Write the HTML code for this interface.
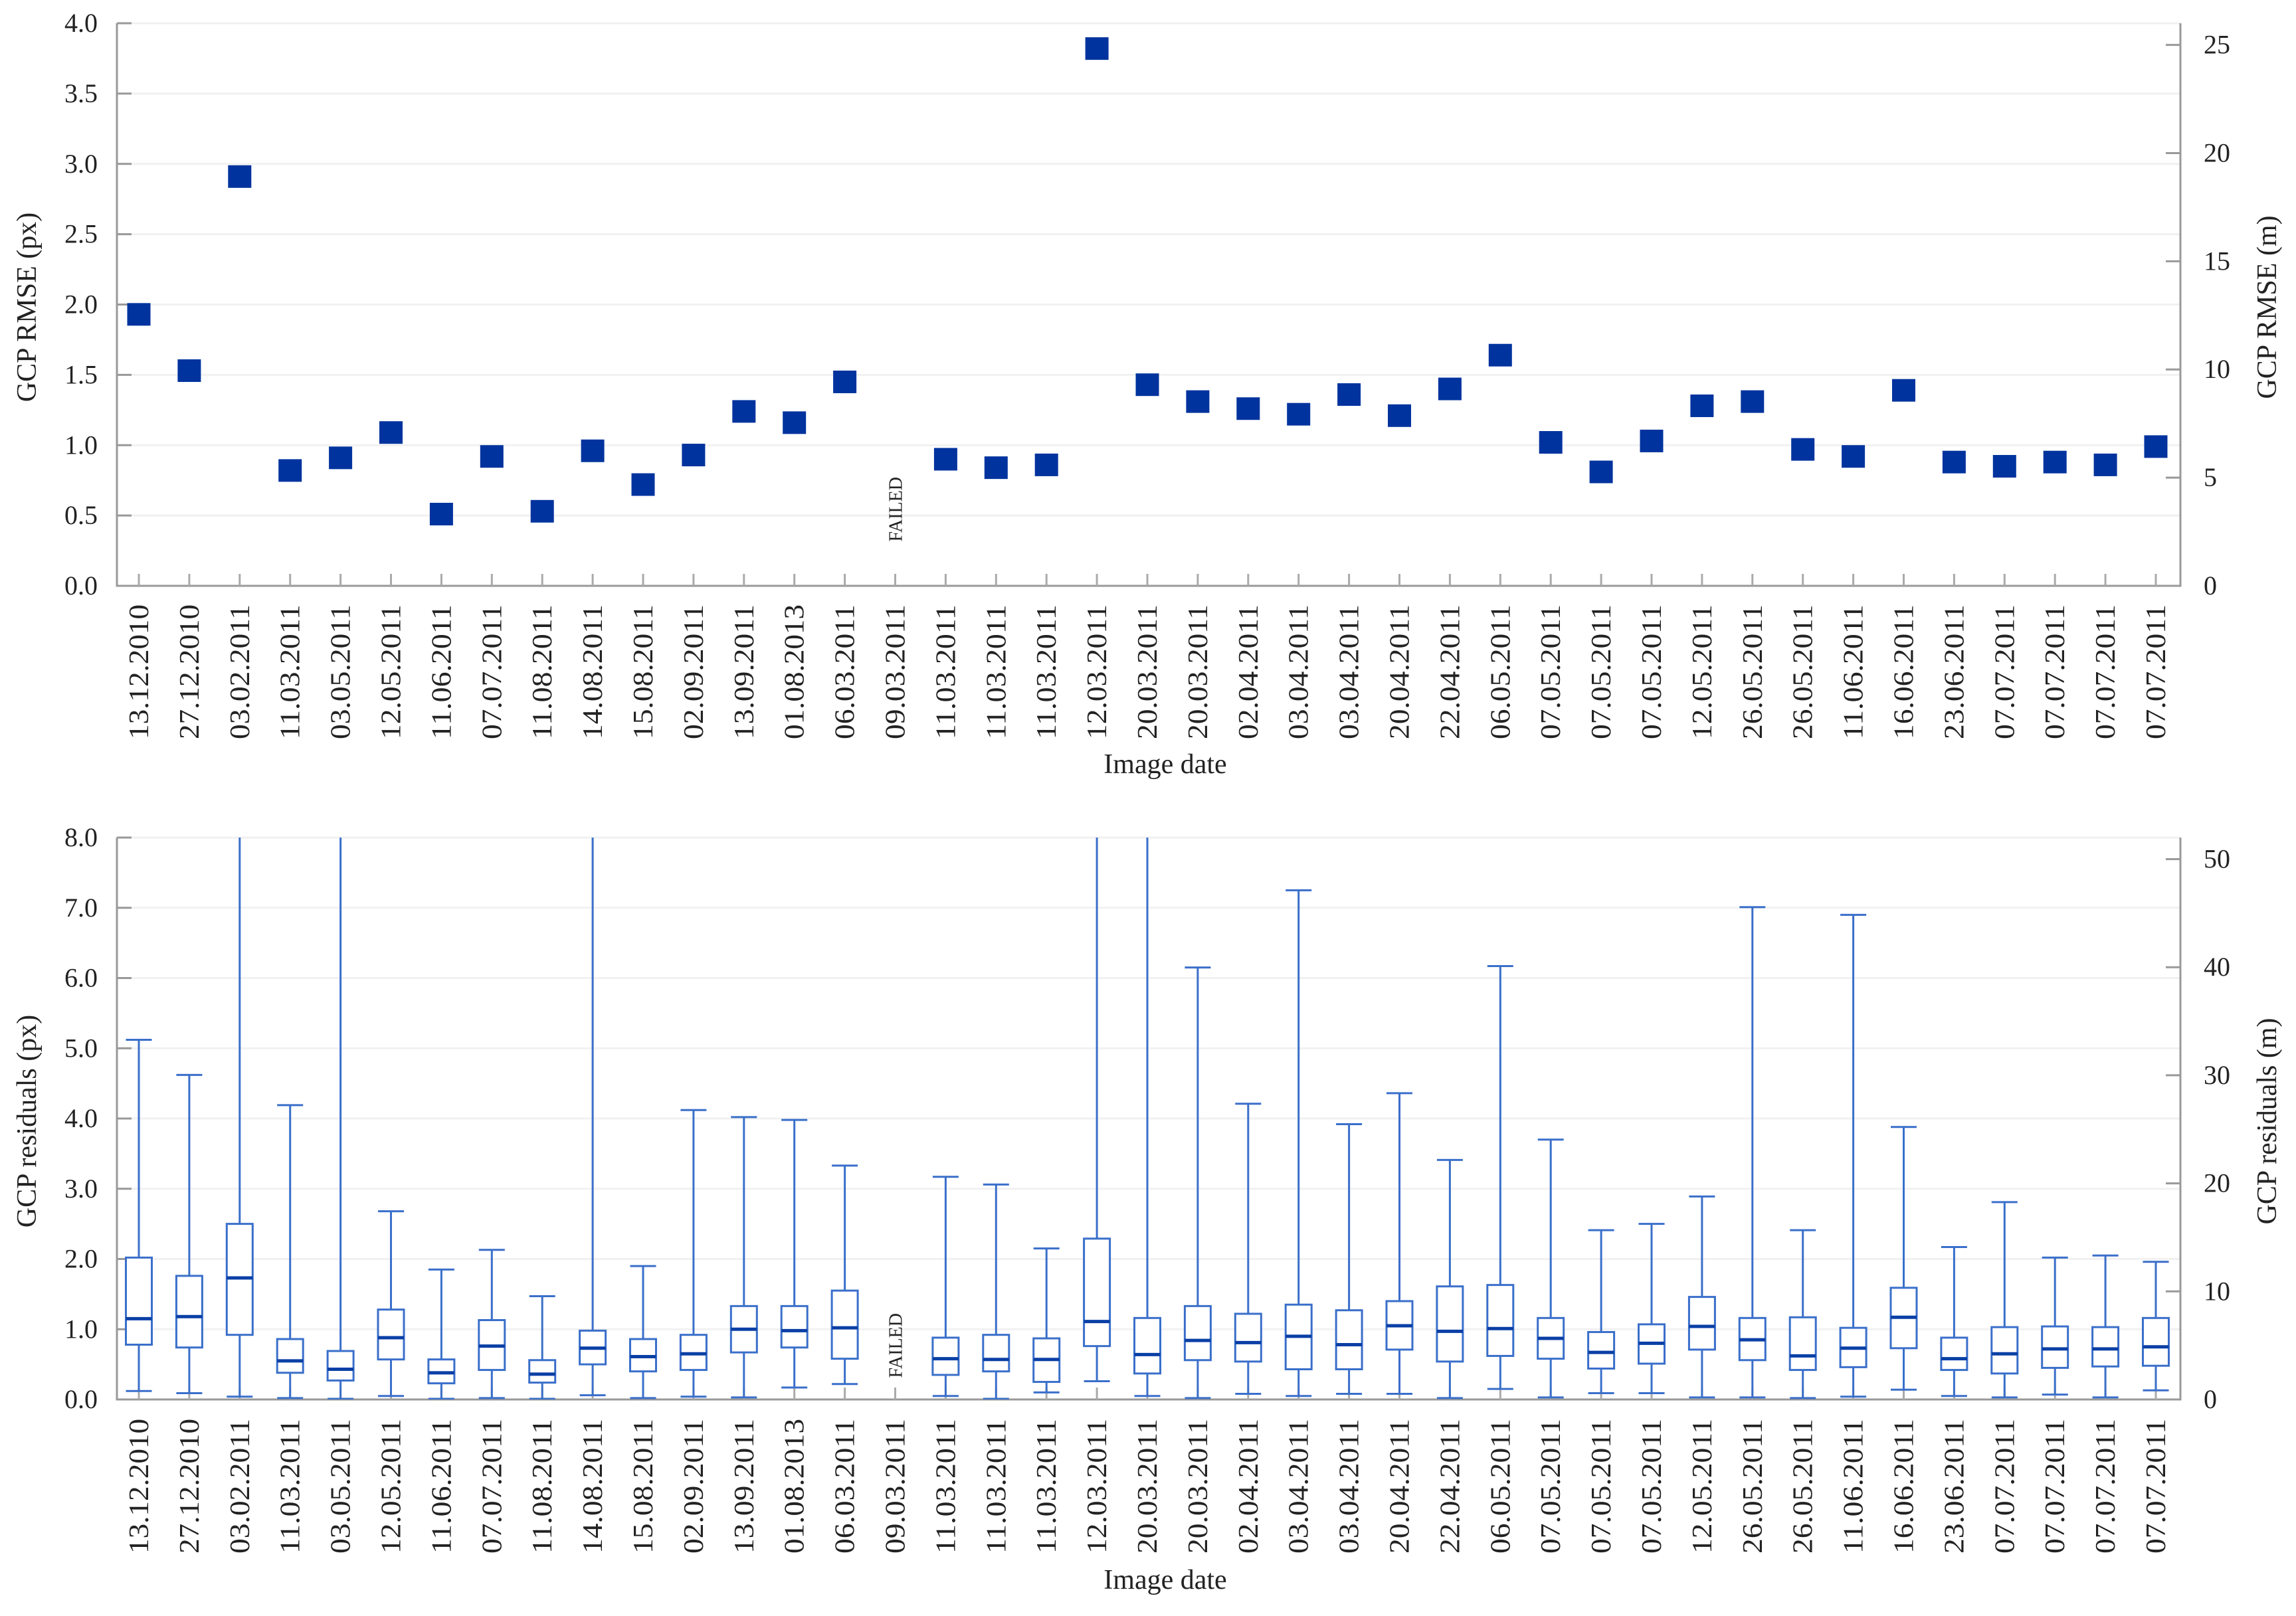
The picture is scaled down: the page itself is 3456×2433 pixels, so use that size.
<!DOCTYPE html>
<html><head><meta charset="utf-8"><style>
html,body{margin:0;padding:0;background:#fff}
svg{display:block}
text{font-family:"Liberation Serif",serif;fill:#222}
</style></head><body>
<svg id="chart" width="3456" height="2433" viewBox="0 0 3456 2433" xmlns="http://www.w3.org/2000/svg">
<defs>
<clipPath id="clipBot"><rect x="176" y="1261" width="3106" height="846"/></clipPath>
</defs>
<g id="top"></g>
<g id="bot"></g>
</svg>
<script>
const categories = ["13.12.2010","27.12.2010","03.02.2011","11.03.2011","03.05.2011","12.05.2011","11.06.2011","07.07.2011","11.08.2011","14.08.2011","15.08.2011","02.09.2011","13.09.2011","01.08.2013","06.03.2011","09.03.2011","11.03.2011","11.03.2011","11.03.2011","12.03.2011","20.03.2011","20.03.2011","02.04.2011","03.04.2011","03.04.2011","20.04.2011","22.04.2011","06.05.2011","07.05.2011","07.05.2011","07.05.2011","12.05.2011","26.05.2011","26.05.2011","11.06.2011","16.06.2011","23.06.2011","07.07.2011","07.07.2011","07.07.2011","07.07.2011"];
const rmse = [1.93,1.53,2.91,0.82,0.91,1.09,0.51,0.92,0.53,0.96,0.72,0.93,1.24,1.16,1.45,null,0.90,0.84,0.86,3.82,1.43,1.31,1.26,1.22,1.36,1.21,1.40,1.64,1.02,0.81,1.03,1.28,1.31,0.97,0.92,1.39,0.88,0.85,0.88,0.86,0.99];
const whiskerLow = [0.12,0.09,0.04,0.02,0.01,0.05,0.01,0.02,0.01,0.06,0.02,0.04,0.03,0.17,0.22,null,0.05,0.01,0.10,0.26,0.05,0.02,0.08,0.05,0.08,0.08,0.02,0.15,0.03,0.09,0.09,0.03,0.03,0.02,0.04,0.14,0.05,0.03,0.07,0.03,0.13];
const q1 = [0.78,0.74,0.92,0.38,0.27,0.57,0.23,0.42,0.24,0.50,0.40,0.42,0.67,0.74,0.58,null,0.35,0.40,0.25,0.76,0.37,0.56,0.54,0.43,0.43,0.71,0.54,0.62,0.58,0.44,0.51,0.71,0.56,0.42,0.46,0.73,0.42,0.37,0.45,0.47,0.48];
const median = [1.15,1.18,1.73,0.55,0.43,0.88,0.38,0.76,0.36,0.73,0.61,0.65,1.00,0.98,1.02,null,0.58,0.57,0.57,1.11,0.64,0.84,0.81,0.90,0.78,1.05,0.97,1.01,0.87,0.67,0.80,1.04,0.85,0.62,0.73,1.17,0.58,0.65,0.72,0.72,0.75];
const q3 = [2.02,1.76,2.50,0.86,0.69,1.28,0.57,1.13,0.56,0.98,0.86,0.92,1.33,1.33,1.55,null,0.88,0.92,0.87,2.29,1.16,1.33,1.22,1.35,1.27,1.40,1.61,1.63,1.16,0.96,1.07,1.46,1.16,1.17,1.02,1.59,0.88,1.03,1.04,1.03,1.16];
const whiskerHigh = [5.12,4.62,12,4.19,12,2.68,1.85,2.13,1.47,12,1.90,4.12,4.02,3.98,3.33,null,3.17,3.06,2.15,12,12,6.15,4.21,7.25,3.92,4.36,3.41,6.17,3.70,2.41,2.50,2.89,7.01,2.41,6.90,3.88,2.17,2.81,2.02,2.05,1.96];
const topTicksLeft = [0,0.5,1,1.5,2,2.5,3,3.5,4];
const topTicksRight = [0,5,10,15,20,25];
const botTicksLeft = [0,1,2,3,4,5,6,7,8];
const botTicksRight = [0,10,20,30,40,50];

const NS="http://www.w3.org/2000/svg";
const X0=176, X1=3282;
const xPos = i => 209 + i*75.9;
function mk(tag, attrs, parent, txt){
  const e=document.createElementNS(NS,tag);
  for(const k in attrs) e.setAttribute(k,attrs[k]);
  if(txt!==undefined) e.textContent=txt;
  parent.appendChild(e); return e;
}
function panel(g, yTop, yBot, maxL, maxR, ticksL, ticksR, titleL, titleR, labelY, xTitleY, pfx){
  const yL = v => yBot - (v/maxL)*(yBot-yTop);
  const yR = v => yBot - (v/maxR)*(yBot-yTop);
  ticksL.forEach(t=>{
    const gl=mk('line',{x1:X0,x2:X1,y1:yL(t),y2:yL(t),stroke:'#f1f1f1','stroke-width':3},g);
    
    
    const tk=mk('line',{x1:X0,x2:X0+22,y1:yL(t),y2:yL(t),stroke:'#999','stroke-width':3},g);
    
    
    const tl=mk('text',{x:147,y:yL(t)+13,'text-anchor':'end','font-size':40},g,t.toFixed(1));
    
    
  });
  ticksR.forEach(t=>{
    const tk=mk('line',{x1:X1-22,x2:X1,y1:yR(t),y2:yR(t),stroke:'#999','stroke-width':3},g);
    
    
    const tl=mk('text',{x:3317,y:yR(t)+13,'text-anchor':'start','font-size':40},g,String(t));
    
    
  });
  const ax=mk('path',{d:`M${X0},${yTop} V${yBot} H${X1} V${yTop}`,fill:'none',stroke:'#999','stroke-width':3},g);
  
  
  categories.forEach((c,i)=>{
    const x=xPos(i);
    const tk=mk('line',{x1:x,x2:x,y1:yBot-18,y2:yBot,stroke:'#aaa','stroke-width':3},g);
    
    
    const tl=mk('text',{x:0,y:0,'text-anchor':'end','font-size':42,textLength:203,lengthAdjust:'spacingAndGlyphs',transform:`translate(${x+14},${labelY}) rotate(-90)`},g,c);
    
    
  });
  const cy=(yTop+yBot)/2+4;
  const t1=mk('text',{x:0,y:0,'text-anchor':'middle','font-size':42,transform:`translate(54,${cy}) rotate(-90)`},g,titleL);
  
  
  const t2=mk('text',{x:0,y:0,'text-anchor':'middle','font-size':42,transform:`translate(3426,${cy}) rotate(-90)`},g,titleR);
  
  
  const xt=mk('text',{x:1754,y:xTitleY,'text-anchor':'middle','font-size':42},g,'Image date');
  
  
  return yL;
}
const gT=document.getElementById('top');
const yT=panel(gT,35,882,4,26,topTicksLeft,topTicksRight,'GCP RMSE (px)','GCP RMSE (m)',910,1164,'t');
rmse.forEach((v,i)=>{
  if(v===null){
    const f=mk('text',{x:0,y:0,'text-anchor':'end','font-size':28,transform:`translate(${xPos(i)+10},718) rotate(-90)`},gT,'FAILED');
    
    
    return;
  }
  const r=mk('rect',{x:xPos(i)-17.5,y:yT(v)-17,width:35,height:34,fill:'#00339e'},gT);
  
  
});
const gB=document.getElementById('bot');
const yB=panel(gB,1261,2107,8,52,botTicksLeft,botTicksRight,'GCP residuals (px)','GCP residuals (m)',2136,2392,'b');
const gc=mk('g',{'clip-path':'url(#clipBot)'},gB);


categories.forEach((c,i)=>{
  const x=xPos(i);
  if(median[i]===null){
    const f=mk('text',{x:0,y:0,'text-anchor':'end','font-size':28,transform:`translate(${x+10},1977) rotate(-90)`},gB,'FAILED');
    
    
    return;
  }
  const g=mk('g',{},gc);
  
  
  const col='#3a6fca', w=19.5;
  const wl=mk('line',{x1:x,x2:x,y1:yB(whiskerHigh[i]),y2:yB(q3[i]),stroke:col,'stroke-width':3},g);
  
  
  const wl2=mk('line',{x1:x,x2:x,y1:yB(q1[i]),y2:yB(whiskerLow[i]),stroke:col,'stroke-width':3},g);
  
  
  [whiskerHigh[i],whiskerLow[i]].forEach(v=>{
    const cp=mk('line',{x1:x-w,x2:x+w,y1:yB(v),y2:yB(v),stroke:col,'stroke-width':3},g);
    
    
  });
  const b=mk('rect',{x:x-w,y:yB(q3[i]),width:2*w,height:yB(q1[i])-yB(q3[i]),fill:'#fff',stroke:col,'stroke-width':3},g);
  
  
  const m=mk('line',{x1:x-w,x2:x+w,y1:yB(median[i]),y2:yB(median[i]),stroke:'#0a3fa5','stroke-width':5},g);
  
  
});
</script>
</body></html>
